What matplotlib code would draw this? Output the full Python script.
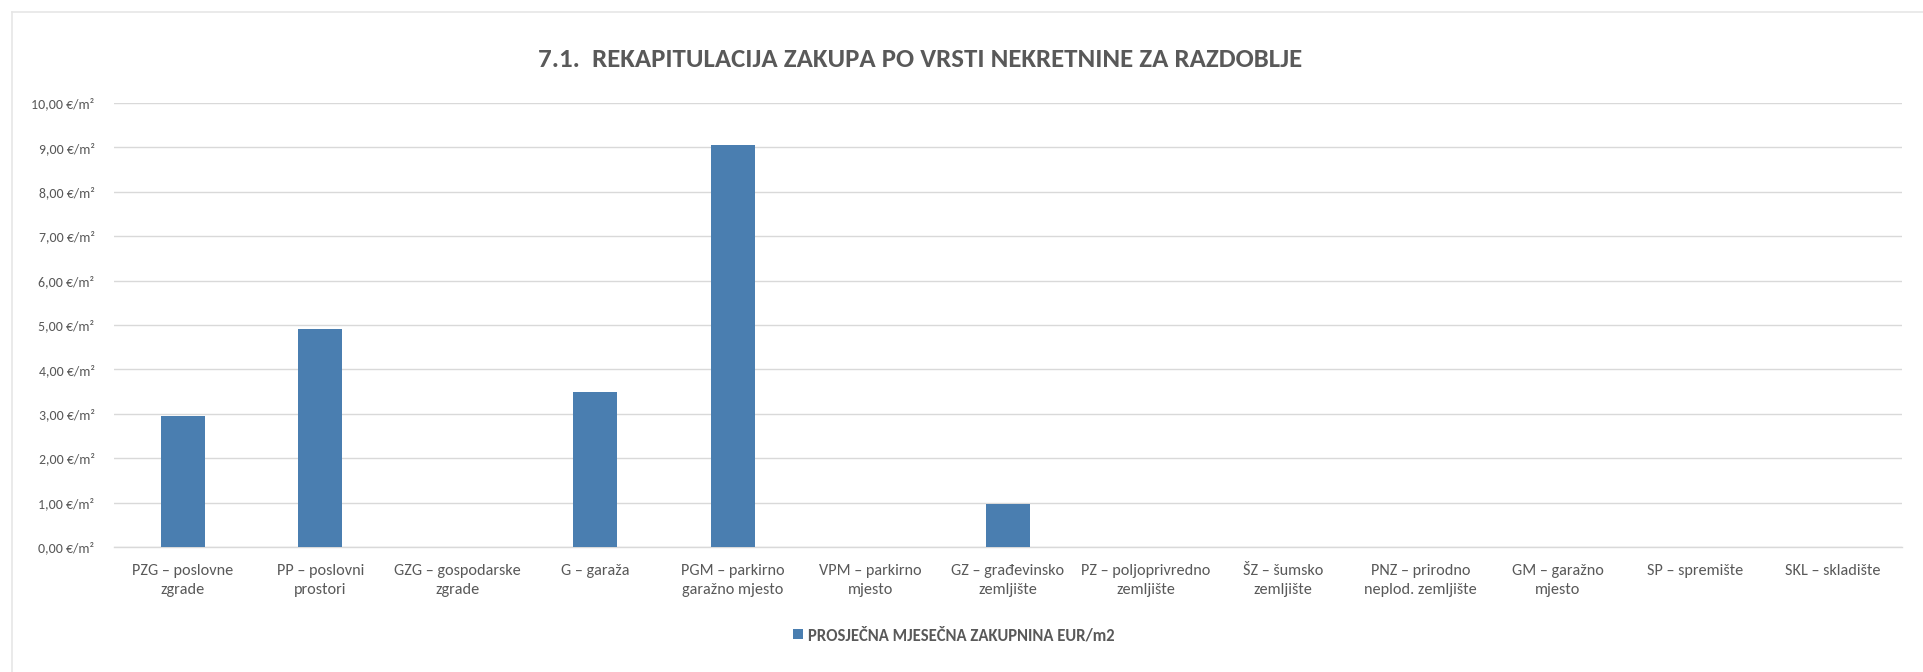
"""Average monthly rent by property type (recap chart 7.1)."""

import matplotlib

matplotlib.use("Agg")
import matplotlib.pyplot as plt
from matplotlib.lines import Line2D
from matplotlib.patches import Patch
from matplotlib.ticker import FuncFormatter

COLORS = {
    "bar": "#4a7eb0",
    "text": "#595959",
    "grid": "#d9d9d9",
    "frame": "#e6e6e6",
}

categories = [
    "PZG – poslovne\nzgrade",
    "PP – poslovni\nprostori",
    "GZG – gospodarske\nzgrade",
    "G – garaža",
    "PGM – parkirno\ngaražno mjesto",
    "VPM – parkirno\nmjesto",
    "GZ – građevinsko\nzemljište",
    "PZ – poljoprivredno\nzemljište",
    "ŠZ – šumsko\nzemljište",
    "PNZ – prirodno\nneplod. zemljište",
    "GM – garažno\nmjesto",
    "SP – spremište",
    "SKL – skladište",
]
rent_eur_m2 = [2.96, 4.90, 0, 3.49, 9.06, 0, 0.96, 0, 0, 0, 0, 0, 0]
y_ticks = [0, 1, 2, 3, 4, 5, 6, 7, 8, 9, 10]

series_label = "PROSJEČNA MJESEČNA ZAKUPNINA EUR/m2"
title = "7.1.  REKAPITULACIJA ZAKUPA PO VRSTI NEKRETNINE ZA RAZDOBLJE"

plt.rcParams["font.family"] = ["Carlito", "DejaVu Sans"]

fig = plt.figure(figsize=(19.23, 6.72), dpi=100, facecolor="white")
ax = fig.add_axes([0.0593, 0.186, 0.9297, 0.6607])

x = range(len(categories))
ax.bar(list(x), rent_eur_m2, width=0.32, color=COLORS["bar"], zorder=3)
ax.set_xlim(-0.5, len(categories) - 0.5)
ax.set_ylim(0, 10)
ax.set_yticks(y_ticks)
ax.yaxis.set_major_formatter(
    FuncFormatter(lambda v, _: f"{v:.2f}".replace(".", ",") + " €/m²")
)
ax.set_xticks(list(x))
ax.set_xticklabels(categories, fontsize=11.7, color=COLORS["text"], linespacing=1.5)
ax.tick_params(axis="y", labelsize=10, labelcolor=COLORS["text"], length=0, pad=14)
ax.tick_params(axis="x", length=0, pad=12)
ax.grid(axis="y", color=COLORS["grid"], linewidth=1.0, zorder=0)
for side in ("top", "right", "left"):
    ax.spines[side].set_visible(False)
ax.spines["bottom"].set_color(COLORS["grid"])
ax.spines["bottom"].set_linewidth(1.0)

fig.text(0.4783, 0.912, title, ha="center", va="center", fontsize=19.4,
         fontweight="bold", color=COLORS["text"])

fig.legend(
    handles=[Patch(facecolor=COLORS["bar"], label=series_label)],
    loc="center",
    bbox_to_anchor=(0.496, 0.055),
    frameon=False,
    handlelength=0.55,
    handleheight=0.55,
    handletextpad=0.3,
    prop={"size": 12, "weight": "bold"},
    labelcolor=COLORS["text"],
)

# light outer frame (top and left edge visible in the original)
fig.add_artist(Line2D([0.006, 1.0], [0.982, 0.982], color=COLORS["frame"], lw=1.2))
fig.add_artist(Line2D([0.006, 0.006], [0.0, 0.982], color=COLORS["frame"], lw=1.2))

fig.savefig("out.png", dpi=100, facecolor="white")
